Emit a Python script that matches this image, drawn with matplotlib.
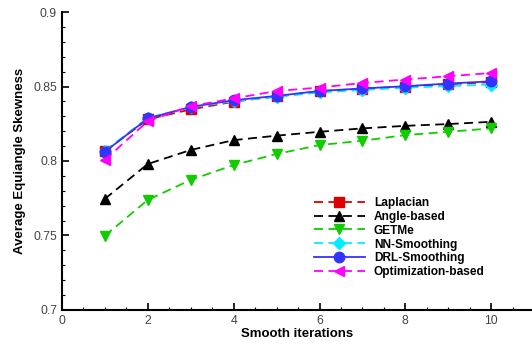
import matplotlib
matplotlib.use('Agg')
import matplotlib.pyplot as plt
from matplotlib.ticker import MultipleLocator

plt.rcParams['font.family'] = ['Liberation Sans', 'DejaVu Sans']

iters = [1, 2, 3, 4, 5, 6, 7, 8, 9, 10]
laplacian = [0.8065, 0.8280, 0.8346, 0.8398, 0.8435, 0.8468, 0.8485, 0.8500, 0.8515, 0.8530]
angle_based = [0.7746, 0.7980, 0.8074, 0.8140, 0.8170, 0.8196, 0.8219, 0.8236, 0.8248, 0.8263]
getme = [0.7498, 0.7739, 0.7873, 0.7973, 0.8047, 0.8107, 0.8136, 0.8174, 0.8196, 0.8219]
nn_smoothing = [0.8068, 0.8290, 0.8360, 0.8402, 0.8430, 0.8460, 0.8477, 0.8492, 0.8503, 0.8513]
drl_smoothing = [0.8062, 0.8286, 0.8363, 0.8408, 0.8437, 0.8470, 0.8487, 0.8502, 0.8520, 0.8535]
optimization = [0.8007, 0.8268, 0.8368, 0.8420, 0.8470, 0.8493, 0.8524, 0.8547, 0.8569, 0.8591]

series = [
    ('Laplacian', laplacian, '#dd0000', 's', '--'),
    ('Angle-based', angle_based, 'black', '^', '--'),
    ('GETMe', getme, '#11cc00', 'v', '--'),
    ('NN-Smoothing', nn_smoothing, '#00eeff', 'D', '--'),
    ('DRL-Smoothing', drl_smoothing, '#3333ff', 'o', '-'),
    ('Optimization-based', optimization, '#ff00ff', '<', '--'),
]

fig = plt.figure(figsize=(5.32, 3.44), dpi=100)
ax = fig.add_axes([0.1165, 0.099, 0.8835, 0.866])

for name, vals, col, mk, ls in series:
    ms = 6.5 if mk == 'D' else 7.5
    ax.plot(iters, vals, color=col, marker=mk, linestyle=ls, linewidth=1.3,
            markersize=ms, label=name, dashes=(5, 3) if ls == '--' else (None, None))

ax.set_xlim(0, 10.95)
ax.set_ylim(0.7, 0.9)
ax.xaxis.set_major_locator(MultipleLocator(2))
ax.xaxis.set_minor_locator(MultipleLocator(0.5))
ax.yaxis.set_minor_locator(MultipleLocator(0.01))
ax.set_yticks([0.7, 0.75, 0.8, 0.85, 0.9])
ax.set_yticklabels(['0.7', '0.75', '0.8', '0.85', '0.9'])
ax.tick_params(which='major', direction='in', length=5, width=1.2, labelsize=8.8, labelcolor='#444444')
ax.tick_params(which='minor', direction='in', length=2.5, width=0.8)
ax.spines['top'].set_visible(False)
ax.spines['right'].set_visible(False)
ax.spines['left'].set_linewidth(1.5)
ax.spines['bottom'].set_linewidth(1.5)

ax.set_xlabel('Smooth iterations', fontsize=9.5, fontweight='bold', labelpad=1)
ax.set_ylabel('Average Equiangle Skewness', fontsize=9.5, fontweight='bold', labelpad=5)

leg = ax.legend(loc='lower right', bbox_to_anchor=(0.922, 0.07), frameon=False,
                prop={'weight': 'bold', 'size': 8.6}, handlelength=4.3,
                labelspacing=0.16, handletextpad=0.75)

fig.savefig('out.png', dpi=100)
